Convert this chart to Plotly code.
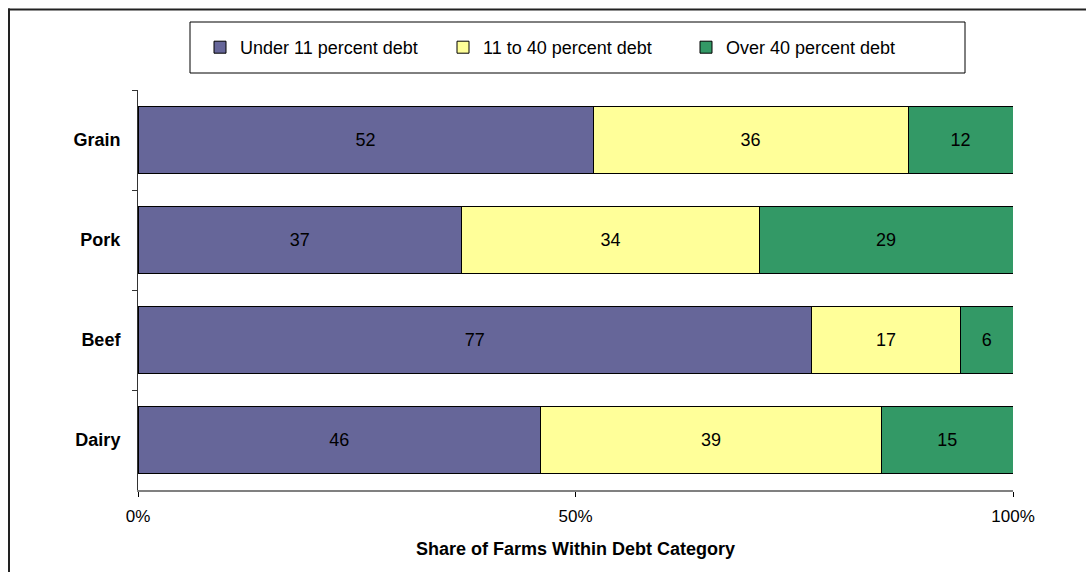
import plotly.graph_objects as go

categories = ["Grain", "Pork", "Beef", "Dairy"]
under_11 = [52, 37, 77, 46]
from_11_to_40 = [36, 34, 17, 39]
over_40 = [12, 29, 6, 15]
series_names = ["Under 11 percent debt", "11 to 40 percent debt", "Over 40 percent debt"]
series_colors = ["#666699", "#FFFF99", "#339966"]
x_tick_vals = [0, 50, 100]
x_tick_text = ["0%", "50%", "100%"]
x_title = "Share of Farms Within Debt Category"

FONT = "Liberation Sans, Arial, sans-serif"
FS = 18

fig = go.Figure()
for name, vals, col in zip(series_names, [under_11, from_11_to_40, over_40], series_colors):
    fig.add_trace(go.Bar(
        y=categories, x=vals, name=name, orientation="h",
        marker=dict(color=col, line=dict(color="#000000", width=1)),
        text=[str(v) for v in vals], textposition="inside",
        insidetextanchor="middle", textangle=0,
        textfont=dict(family=FONT, size=FS, color="#000000"),
        hoverinfo="x+y+name",
    ))

# body margin is removed by post_script, so figure coords == page coords
W, H = 1086, 572
L, T = 138, 90
R, B = W - 1013, H - 490
pw, ph = W - L - R, H - T - B

def px2x(px):
    return (px - L) / pw

def py2y(py):
    return 1 - (py - T) / ph

fig.update_layout(
    width=W, height=H,
    barmode="stack", bargap=0.33,
    plot_bgcolor="white", paper_bgcolor="white",
    margin=dict(l=L, r=R, t=T, b=B),
    font=dict(family=FONT, size=FS, color="#000000"),
    showlegend=True,
    legend=dict(
        orientation="h", x=px2x(200), xanchor="left", y=py2y(29), yanchor="top",
        bgcolor="rgba(0,0,0,0)", borderwidth=0,
        font=dict(family=FONT, size=FS, color="#000000"),
        entrywidth=198, entrywidthmode="pixels", itemwidth=30,
        traceorder="normal",
    ),
    xaxis=dict(
        range=[0, 100], tickvals=x_tick_vals, ticktext=x_tick_text,
        showgrid=False, zeroline=False, showline=True, linecolor="#808080", linewidth=2,
        ticks="outside", ticklen=5, tickcolor="#000000", tickwidth=1,
        tickfont=dict(family=FONT, size=17, color="#000000"),
        ticklabelstandoff=5,
        title=dict(text="<b>" + x_title + "</b>", standoff=17,
                   font=dict(family=FONT, size=FS, color="#000000")),
        fixedrange=True,
    ),
    yaxis=dict(
        categoryorder="array", categoryarray=categories, autorange="reversed",
        showgrid=False, zeroline=False, showline=True, linecolor="#333333", linewidth=1,
        ticks="outside", ticklen=5, tickcolor="#333333", tickson="boundaries",
        tickfont=dict(family=FONT, size=FS, color="#000000"),
        ticklabelstandoff=13,
        tickprefix="<b>", ticksuffix="</b>",
        fixedrange=True,
    ),
    shapes=[
        # outer frame (top and left edges)
        dict(type="line", xref="paper", yref="paper", x0=px2x(8), x1=px2x(W), y0=py2y(9.5), y1=py2y(9.5),
             line=dict(color="#222222", width=2)),
        dict(type="line", xref="paper", yref="paper", x0=px2x(9), x1=px2x(9), y0=py2y(8.5), y1=py2y(H),
             line=dict(color="#222222", width=2)),
        # legend box
        dict(type="rect", xref="paper", yref="paper", x0=px2x(190), x1=px2x(965), y0=py2y(22), y1=py2y(73),
             line=dict(color="#000000", width=1), fillcolor="rgba(0,0,0,0)"),
    ],
)

fig.write_html(
    "out.html",
    config={"displayModeBar": False},
    post_script="document.body.style.margin='0';document.body.style.overflow='hidden';",
)
